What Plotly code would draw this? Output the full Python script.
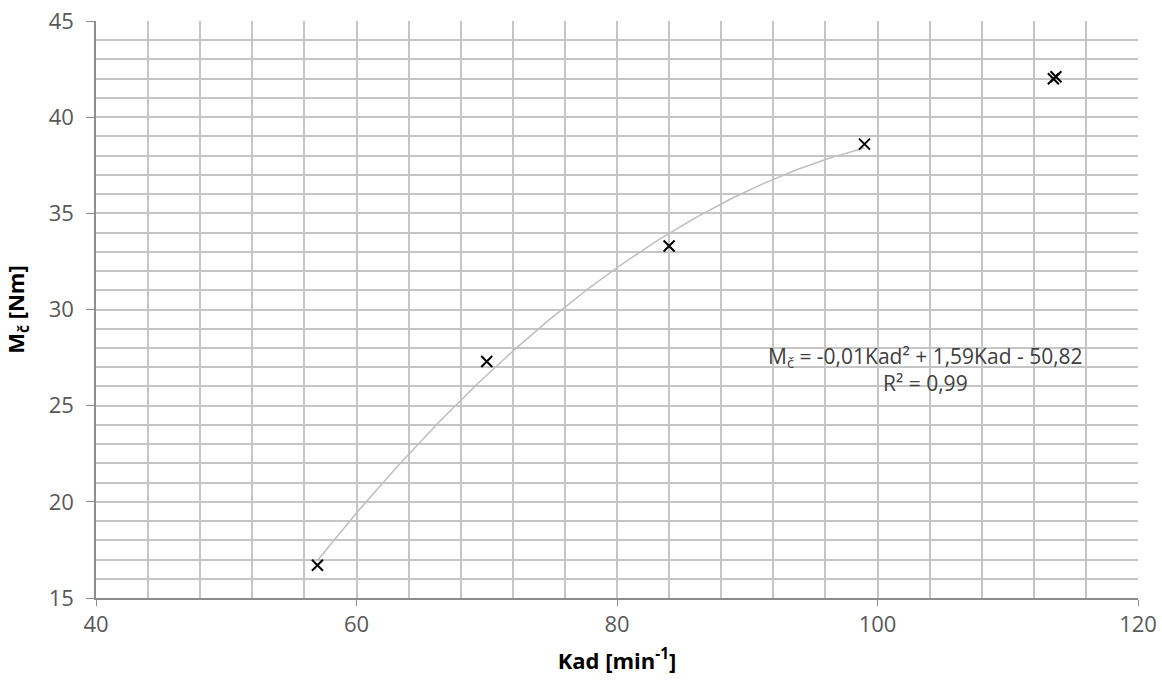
import numpy as np
import plotly.graph_objects as go

kad = [57.0, 70.0, 84.0, 99.0, 113.5, 113.7]
moment = [16.7, 27.3, 33.3, 38.6, 42.0, 42.1]
fit_kad = [57.0, 70.0, 84.0, 99.0]
fit_m = [16.7, 27.3, 33.3, 38.6]

coef = np.polyfit(fit_kad, fit_m, 2)
xs = np.linspace(min(fit_kad), max(fit_kad), 120)
ys = np.polyval(coef, xs)

fig = go.Figure()
fig.add_trace(go.Scatter(x=xs, y=ys, mode="lines",
                         line=dict(color="#bfbfbf", width=1.5),
                         hoverinfo="skip", showlegend=False))
fig.add_trace(go.Scatter(x=kad, y=moment, mode="markers",
                         marker=dict(symbol="x-thin", size=11,
                                     line=dict(color="black", width=2)),
                         showlegend=False))

fig.add_annotation(x=103.65, y=26.9, xref="x", yref="y",
                   text="M<sub>č</sub> = -0,01Kad² + 1,59Kad - 50,82<br>R² = 0,99",
                   showarrow=False, align="center",
                   font=dict(family="Open Sans", size=21, color="#404040"))

gridc = "#c6c6c6"
fig.update_xaxes(range=[40, 120], dtick=20, tick0=40, automargin=False,
                 showgrid=True, gridcolor=gridc, gridwidth=1.5,
                 minor=dict(dtick=4, showgrid=True, gridcolor=gridc, gridwidth=1.5),
                 showline=True, linecolor="#8c8c8c", linewidth=1.5,
                 ticks="outside", ticklen=6, tickcolor="#8c8c8c",
                 zeroline=False, ticklabeloverflow="allow",
                 tickfont=dict(family="Open Sans", size=22, color="#595959"),
                 title=dict(text="<b>Kad [min<sup>-1</sup>]</b>",
                            font=dict(family="Open Sans", size=22, color="black"),
                            standoff=16))
fig.update_yaxes(range=[15, 45], dtick=5, tick0=15, automargin=False,
                 showgrid=True, gridcolor=gridc, gridwidth=1.5,
                 minor=dict(dtick=1, showgrid=True, gridcolor=gridc, gridwidth=1.5),
                 showline=True, linecolor="#8c8c8c", linewidth=1.5,
                 ticks="outside", ticklen=8, tickcolor="#8c8c8c",
                 zeroline=False, ticklabeloverflow="allow", ticklabelstandoff=8,
                 tickfont=dict(family="Open Sans", size=22, color="#595959"),
                 title=dict(text="<b>M<sub>č</sub> [Nm]</b>",
                            font=dict(family="Open Sans", size=22, color="black"),
                            standoff=19))

fig.update_layout(width=1162, height=688,
                  margin=dict(l=96, r=24, t=21, b=90),
                  plot_bgcolor="white", paper_bgcolor="white")

fig.write_html("out.html", config={"displayModeBar": False},
               post_script="document.body.style.margin='0';")
